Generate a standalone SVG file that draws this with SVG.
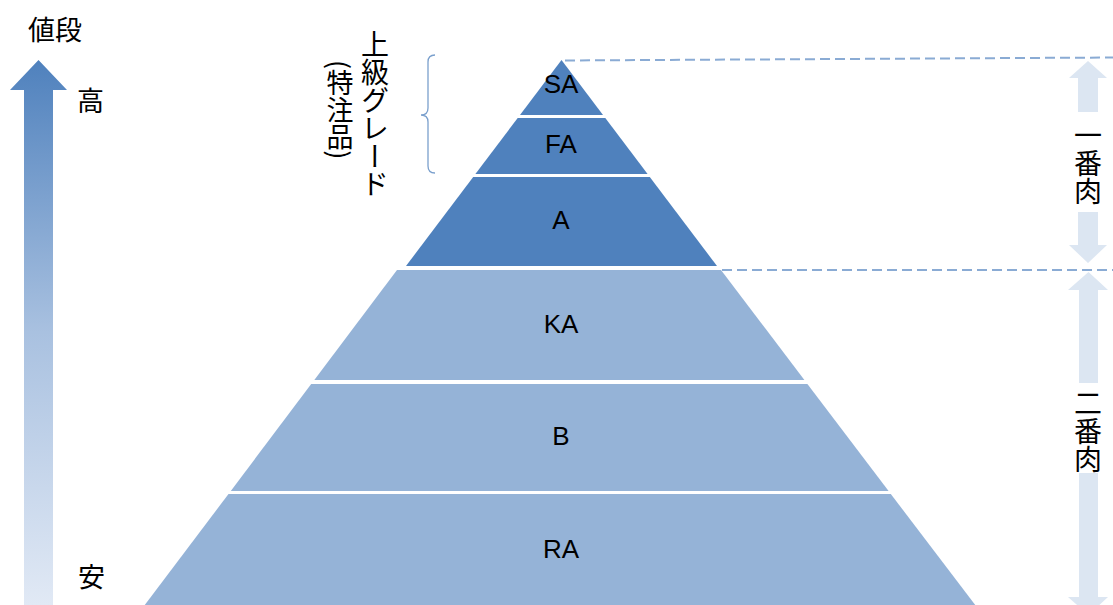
<svg xmlns="http://www.w3.org/2000/svg" width="1113" height="605" viewBox="0 0 1113 605">
<defs>
<linearGradient id="g" x1="0" y1="60" x2="0" y2="605" gradientUnits="userSpaceOnUse">
<stop offset="0" stop-color="#4F81BD"/>
<stop offset="0.5" stop-color="#A9C1E0"/>
<stop offset="1" stop-color="#E1E9F5"/>
</linearGradient>
<style>
.dark{fill:#4F81BD}
.light{fill:#95B3D7}
.lbl{font-family:"Liberation Sans","Noto Sans CJK JP",sans-serif;font-size:26px;fill:#000;text-anchor:middle}
.jp{font-family:"Noto Sans CJK JP",sans-serif;font-size:27px;fill:#000}
.vt{writing-mode:vertical-rl;font-family:"Noto Sans CJK JP",sans-serif;fill:#000}
.dash{stroke:#8AABD4;stroke-width:2;stroke-dasharray:10 5;fill:none}
.ud{fill:#DCE6F2}
</style>
</defs>
<rect width="1113" height="605" fill="#fff"/>

<g id="price-arrow">
<polygon points="38.5,60 67,90 53,90 53,606 24,606 24,90 10,90" fill="url(#g)"/>
<text class="jp" x="28" y="40">値段</text>
<text class="jp" x="77" y="111">高</text>
<text class="jp" x="78" y="587">安</text>
</g>

<g id="premium-label">
<text class="vt" x="375" y="30" font-size="28">上級グレード</text>
<text class="vt" x="340" y="60" font-size="27">(特注品)</text>
<path d="M435,55 Q428,55 428,62 L428,108 Q428,115 421,115 Q428,115 428,122 L428,166 Q428,173 435,173" fill="none" stroke="#7BA0CD" stroke-width="1.3"/>
</g>

<g id="connectors">
<line class="dash" x1="565" y1="60.5" x2="1113" y2="57.5"/>
<line class="dash" x1="722" y1="270" x2="1113" y2="270"/>
</g>

<g id="SA"><polygon class="dark" points="561.5,60 603,115 520,115"/><text class="lbl" x="561" y="93">SA</text></g>
<g id="FA"><polygon class="dark" points="517.7,118 605.3,118 647.6,174 475.4,174"/><text class="lbl" x="561" y="153">FA</text></g>
<g id="A"><polygon class="dark" points="473.2,177 649.8,177 717,266 406,266"/><text class="lbl" x="561" y="229">A</text></g>
<g id="KA"><polygon class="light" points="397,270 721,270 804.4,380 314.3,380"/><text class="lbl" x="561" y="333">KA</text></g>
<g id="B"><polygon class="light" points="311.2,384 807.4,384 888.6,491 230.8,491"/><text class="lbl" x="561" y="445">B</text></g>
<g id="RA"><polygon class="light" points="228.5,494 890.8,494 976,606 144,606"/><text class="lbl" x="561" y="558">RA</text></g>

<g id="ichibaniku">
<polygon class="ud" points="1088,61 1107,78 1098,78 1098,112 1078,112 1078,78 1069,78"/>
<polygon class="ud" points="1078,212 1098,212 1098,245 1107,245 1088,263 1069,245 1078,245"/>
<text class="vt" x="1088" y="121" font-size="28">一番肉</text>
</g>

<g id="nibaniku">
<polygon class="ud" points="1088.5,272 1108,290 1098,290 1098,383 1079,383 1079,290 1068,290"/>
<polygon class="ud" points="1079,473 1098,473 1098,597 1108,597 1088.5,615 1068,597 1079,597"/>
<text class="vt" x="1088" y="389" font-size="28">二番肉</text>
</g>
</svg>
